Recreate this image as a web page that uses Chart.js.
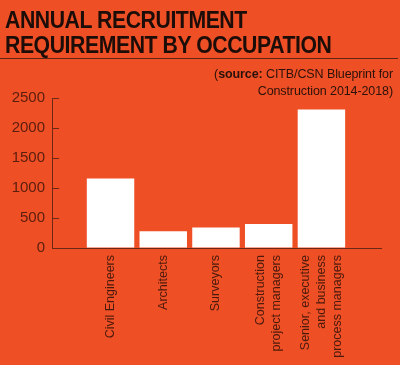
<!DOCTYPE html>
<html>
<head>
<meta charset="utf-8">
<script src="https://cdn.jsdelivr.net/npm/chart.js@4"></script>
<style>
  html, body { margin: 0; padding: 0; }
  body {
    width: 400px; height: 365px; overflow: hidden; position: relative;
    background: #ee4f25;
    font-family: "Liberation Sans", Arial, sans-serif;
  }
  #chart { position: absolute; left: 0; top: 0; }
  .title {
    position: absolute; left: 5px; top: 7px; white-space: nowrap;
    font-family: "Liberation Sans", Arial, sans-serif;
    font-weight: bold; font-size: 24px; line-height: 25px;
    color: #1c0d08; letter-spacing: -0.5px;
    transform: scaleX(0.885); transform-origin: 0 0;
  }
  .rule {
    position: absolute; left: 0; top: 58px; width: 398px; height: 1px;
    background: #5e2414;
  }
  .source {
    position: absolute; right: 7px; top: 66px; text-align: right;
    font-size: 12.5px; line-height: 17px; color: #2a120a; letter-spacing: -0.1px;
  }
</style>
</head>
<body>
<canvas id="chart" width="400" height="365"></canvas>
<div class="title">ANNUAL RECRUITMENT<br>REQUIREMENT BY OCCUPATION</div>
<div class="rule"></div>
<div class="source">(<b>source:</b> CITB/CSN Blueprint for<br>Construction 2014-2018)</div>
<script>
// Occupations (multi-line labels as shown under the bars)
const categories = [
  ['Civil Engineers'],
  ['Architects'],
  ['Surveyors'],
  ['Construction', 'project managers'],
  ['Senior, executive', 'and business', 'process managers']
];
const recruitment = [1160, 280, 340, 400, 2310];
const yTicks = [0, 500, 1000, 1500, 2000, 2500];

const inkColor = '#4a1a0c';
const yInkColor = '#5a1e0e';
const axisColor = '#6a2815';
const labelFont = { family: 'Liberation Sans', size: 12.5, lineHeight: 1.3 };

// bars sit at positions 1..n on a linear axis so the empty margins match
const points = recruitment.map((v, i) => ({ x: i + 1, y: v }));

// rotated multi-line labels: center the block of lines on the tick
const centerRotatedLabels = {
  id: 'centerRotatedLabels',
  beforeDraw(chart) {
    const scale = chart.scales.x;
    const lh = labelFont.size * labelFont.lineHeight;
    scale.getLabelItems().forEach(item => {
      if (item._centered) return;
      const n = Array.isArray(item.label) ? item.label.length : 1;
      item.textOffset -= (n - 1) * lh / 2;
      item._centered = true;
    });
  }
};

new Chart(document.getElementById('chart'), {
  type: 'bar',
  data: {
    datasets: [{
      data: points,
      backgroundColor: '#ffffff',
      borderWidth: 0,
      barPercentage: 0.9,
      categoryPercentage: 1
    }]
  },
  options: {
    responsive: false,
    animation: false,
    layout: { padding: { top: 98, right: 19, bottom: 0, left: 0 } },
    plugins: {
      legend: { display: false },
      tooltip: { enabled: false }
    },
    scales: {
      x: {
        type: 'linear',
        bounds: 'data',
        offset: false,
        min: -0.11,
        max: 6.13,
        afterBuildTicks: (axis) => {
          axis.ticks = categories.map((c, i) => ({ value: i + 1 }));
        },
        afterFit: (axis) => { axis.height = 117; },
        grid: { display: true, offset: false, drawOnChartArea: false, drawTicks: false },
        border: { display: true, color: axisColor, width: 1 },
        ticks: {
          autoSkip: false,
          minRotation: 90,
          maxRotation: 90,
          padding: 7,
          color: inkColor,
          font: labelFont,
          callback: (value) => categories[value - 1] || ''
        }
      },
      y: {
        min: 0,
        max: 2500,
        afterBuildTicks: (axis) => {
          axis.ticks = yTicks.map(v => ({ value: v }));
        },
        afterFit: (axis) => { axis.width = 52; },
        grid: {
          drawOnChartArea: false,
          drawTicks: true,
          tickLength: -7,
          color: axisColor
        },
        border: { display: true, color: axisColor, width: 1 },
        ticks: {
          padding: 14,
          color: yInkColor,
          font: { family: 'Liberation Sans', size: 15 },
          callback: (value) => String(value)
        }
      }
    }
  },
  plugins: [centerRotatedLabels]
});
</script>
</body>
</html>
